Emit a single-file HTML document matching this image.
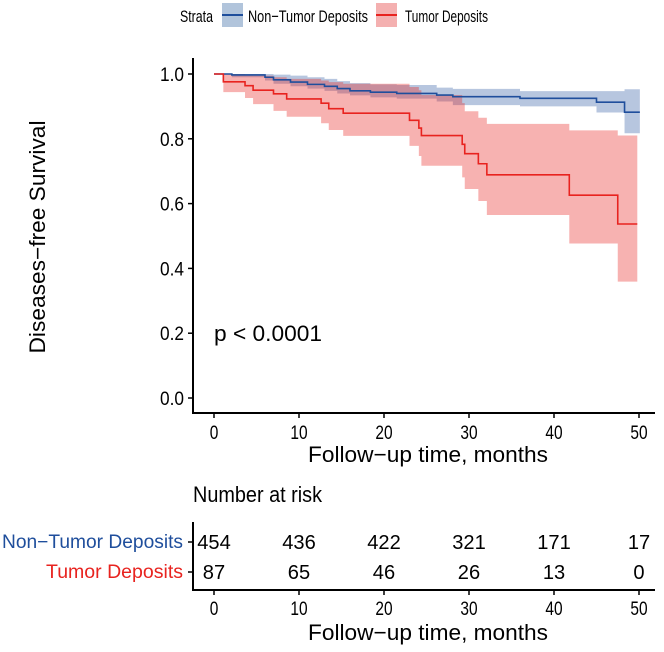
<!DOCTYPE html>
<html><head><meta charset="utf-8"><style>
body{margin:0;background:#fff;}
svg text{font-family:"Liberation Sans",sans-serif;}
</style></head><body>
<svg id="chart" width="664" height="647" viewBox="0 0 664 647" xmlns="http://www.w3.org/2000/svg">
<g>
 <text x="180" y="22" font-size="17" textLength="33" lengthAdjust="spacingAndGlyphs" fill="#000">Strata</text>
 <rect x="222" y="3" width="21" height="24" fill="#b1c4db"/>
 <line x1="222" y1="15" x2="243" y2="15" stroke="#1f4e9c" stroke-width="2"/>
 <text x="248" y="22" font-size="17" textLength="120" lengthAdjust="spacingAndGlyphs" fill="#000">Non−Tumor Deposits</text>
 <rect x="376" y="3" width="21" height="24" fill="#f4b0b0"/>
 <line x1="376" y1="15" x2="397" y2="15" stroke="#e8231f" stroke-width="2"/>
 <text x="405" y="22" font-size="17" textLength="83" lengthAdjust="spacingAndGlyphs" fill="#000">Tumor Deposits</text>
</g>
<g id="plot"></g>
<text transform="translate(45,237) rotate(-90)" text-anchor="middle" font-size="22" textLength="233" lengthAdjust="spacingAndGlyphs" fill="#000">Diseases−free Survival</text>
<text x="214" y="341" font-size="22" textLength="108" lengthAdjust="spacingAndGlyphs" fill="#000">p &lt; 0.0001</text>
<text x="308" y="462" font-size="22" textLength="240" lengthAdjust="spacingAndGlyphs" fill="#000">Follow−up time, months</text>
<text x="193" y="502" font-size="22" textLength="129" lengthAdjust="spacingAndGlyphs" fill="#000">Number at risk</text>
<text x="2" y="548" font-size="19" textLength="181" lengthAdjust="spacingAndGlyphs" fill="#1f4e9c">Non−Tumor Deposits</text>
<text x="46" y="578" font-size="19" textLength="137" lengthAdjust="spacingAndGlyphs" fill="#e8231f">Tumor Deposits</text>
<text x="308" y="640" font-size="22" textLength="240" lengthAdjust="spacingAndGlyphs" fill="#000">Follow−up time, months</text>
</svg>
<script>
const blueT=[0,2.1,6,7,9,11,13,14.5,16,18.4,21.5,26.2,28.1,36,45,48.3];
const blueS=[1,0.997,0.99,0.982,0.975,0.968,0.962,0.955,0.948,0.944,0.94,0.935,0.93,0.925,0.913,0.882];
const blueU=[1,1,1,0.998,0.995,0.99,0.985,0.978,0.972,0.968,0.966,0.958,0.954,0.947,0.947,0.953];
const blueL=[1,0.99,0.98,0.97,0.962,0.955,0.948,0.94,0.934,0.928,0.924,0.915,0.904,0.9,0.881,0.817];
const blueEnd=50.1;
const redT=[0,1.1,3.65,4.6,7,8.55,12.6,13.5,15.2,23,24.1,24.4,29.2,29.5,31.1,32.1,41.8,47.5];
const redS=[1,0.976,0.964,0.95,0.939,0.923,0.91,0.893,0.879,0.857,0.833,0.81,0.783,0.754,0.723,0.689,0.626,0.537];
const redU=[1,1,0.998,0.995,0.99,0.985,0.98,0.975,0.97,0.96,0.95,0.935,0.91,0.885,0.865,0.846,0.826,0.81];
const redL=[1,0.944,0.926,0.907,0.886,0.868,0.848,0.827,0.809,0.778,0.747,0.717,0.681,0.645,0.608,0.565,0.477,0.359];
const redEnd=49.8;
const xTicks=[0,10,20,30,40,50];
const yTicks=[0,0.2,0.4,0.6,0.8,1.0];
const riskNon=[454,436,422,321,171,17];
const riskTum=[87,65,46,26,13,0];
const X=t=>214+t*8.5, Y=v=>398-v*324;
const NS='http://www.w3.org/2000/svg';
const g=document.getElementById('plot');
function mk(tag,attrs){const e=document.createElementNS(NS,tag);for(const k in attrs)e.setAttribute(k,attrs[k]);g.appendChild(e);return e;}
function band(T,U,L,end){let top='',bot='';for(let i=0;i<T.length;i++){const x0=X(T[i]),x1=X(i<T.length-1?T[i+1]:end);top+=`${x0},${Y(U[i])} ${x1},${Y(U[i])} `;}
for(let i=T.length-1;i>=0;i--){const x0=X(T[i]),x1=X(i<T.length-1?T[i+1]:end);bot+=`${x1},${Y(L[i])} ${x0},${Y(L[i])} `;}return top+bot;}
function step(T,S,end){let d=`M${X(T[0])},${Y(S[0])}`;for(let i=0;i<T.length;i++){if(i>0)d+=`V${Y(S[i])}`;d+=`H${X(i<T.length-1?T[i+1]:end)}`;}return d;}
function num(s){return String(s).length*8.6;}
let e;
e=mk('polygon',{points:band(blueT,blueU,blueL,blueEnd),fill:'#1f4e9c','fill-opacity':0.32});


e=mk('polygon',{points:band(redT,redU,redL,redEnd),fill:'#e8231f','fill-opacity':0.35});


e=mk('path',{d:step(blueT,blueS,blueEnd),fill:'none',stroke:'#1f4e9c','stroke-width':1.6});


e=mk('path',{d:step(redT,redS,redEnd),fill:'none',stroke:'#e8231f','stroke-width':1.6});


e=mk('path',{d:'M193,58V413H655',fill:'none',stroke:'#000','stroke-width':2});


e=mk('path',{d:'M193,522V590H655',fill:'none',stroke:'#000','stroke-width':2});


yTicks.forEach(v=>{mk('line',{x1:188,x2:193,y1:Y(v),y2:Y(v),stroke:'#000','stroke-width':1.5});
 e=mk('text',{x:184,y:Y(v)+7,'text-anchor':'end','font-size':19,textLength:24,lengthAdjust:'spacingAndGlyphs',fill:'#000'});e.textContent=v.toFixed(1);
 
 });
xTicks.forEach((t,i)=>{mk('line',{x1:X(t),x2:X(t),y1:413,y2:418,stroke:'#000','stroke-width':1.5});
 e=mk('text',{x:X(t),y:439,'text-anchor':'middle','font-size':19,textLength:num(t),lengthAdjust:'spacingAndGlyphs',fill:'#000'});e.textContent=t;
 
 
 mk('line',{x1:X(t),x2:X(t),y1:590,y2:595,stroke:'#000','stroke-width':1.5});
 e=mk('text',{x:X(t),y:615,'text-anchor':'middle','font-size':19,textLength:num(t),lengthAdjust:'spacingAndGlyphs',fill:'#000'});e.textContent=t;
 
 
 e=mk('text',{x:X(t),y:549,'text-anchor':'middle','font-size':20,textLength:num(riskNon[i])*1.3,lengthAdjust:'spacingAndGlyphs',fill:'#000'});e.textContent=riskNon[i];
 
 
 e=mk('text',{x:X(t),y:579,'text-anchor':'middle','font-size':20,textLength:num(riskTum[i])*1.3,lengthAdjust:'spacingAndGlyphs',fill:'#000'});e.textContent=riskTum[i];
 
 });
[542,572].forEach(y=>mk('line',{x1:188,x2:193,y1:y,y2:y,stroke:'#000','stroke-width':1.5}));
</script>
</body></html>
